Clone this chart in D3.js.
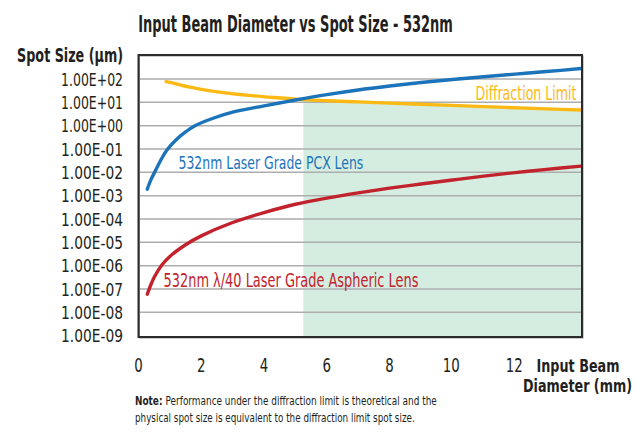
<!DOCTYPE html>
<html>
<head>
<meta charset="utf-8">
<script src="https://cdn.jsdelivr.net/npm/d3@7"></script>
<style>
	body { margin: 0; background: #fff; }
	text { font-family: "Liberation Sans Narrow", "DejaVu Sans Condensed", "Roboto", sans-serif; fill: #231f20; }
</style>
</head>
<body>
<svg id="chart" width="637" height="433"></svg>
<script>
"use strict";

/* global d3 */

// Input beam diameter (mm) and spot size (um)
var pcxX  = [0.28, 0.4, 0.53, 0.7, 0.9, 1.2, 1.5, 1.8, 2.4, 3, 4, 5, 6, 7, 8, 9, 10, 11, 12, 13, 14.1];
var pcxY  = [1.9e-3, 5.0e-3, 1.12e-2, 3.16e-2, 8.9e-2, 0.25, 0.54, 1.0, 2.14, 3.8, 7.1, 12.6,
	21.4, 33.9, 50, 70.8, 95.5, 126, 162, 209, 282];

var asphX = [0.28, 0.4, 0.5, 0.75, 1, 1.5, 2, 3, 4, 5, 6, 7, 8, 9, 10, 11, 12, 13, 14.1];
var asphY = [6e-8, 1.6e-7, 3.2e-7, 1.1e-6, 2.5e-6, 7.9e-6, 1.9e-5, 7.1e-5, 1.9e-4, 4.3e-4,
	7.9e-4, 1.32e-3, 2.1e-3, 3.16e-3, 4.7e-3, 6.9e-3, 9.8e-3, 1.35e-2, 1.86e-2];

var diffX = [0.88, 1.2, 1.6, 2, 2.7, 3.5, 4.3, 5.1, 6, 7, 8, 9, 10, 11, 12, 13, 14.1];
var diffY = [78, 62, 46, 36, 26, 20, 16.2, 13.5, 11.7, 10.5, 9.3, 8.3, 7.4, 6.6, 5.9, 5.25, 4.7];

// Region below the diffraction limit (starts where PCX crosses it)
var shadeStart = 5.25;

var xTicks = [0, 2, 4, 6, 8, 10, 12];
var yTicks = [1e2, 1e1, 1e0, 1e-1, 1e-2, 1e-3, 1e-4, 1e-5, 1e-6, 1e-7, 1e-8, 1e-9];
var yTickLabels = ['1.00E+02', '1.00E+01', '1.00E+00', '1.00E-01', '1.00E-02', '1.00E-03',
	'1.00E-04', '1.00E-05', '1.00E-06', '1.00E-07', '1.00E-08', '1.00E-09'];

var COL_PCX = '#1b73ba', COL_ASPH = '#c1222c', COL_DIFF = '#fdb913';

////////////////////////////////////////////////////////////////////////////////
// Append a text whose width is squeezed to w (condensed look) by scaling it
// horizontally; the font size sets its height.
////////////////////////////////////////////////////////////////////////////////
function fitText(parent, x, y, txt, size, w, anchor, weight, color) {
	var g = parent.append('g').attr('transform', 'translate(' + x + ',' + y + ')');
	var t = g.append('text').attr('x', 0).attr('y', 0).
		style('font-size', size + 'px').style('font-weight', weight || 'normal').
		attr('text-anchor', anchor || 'start').text(txt);
	if (color) t.style('fill', color);
	var len = t.node().getComputedTextLength();
	if (w && len > 0) t.attr('transform', 'scale(' + (w / len) + ',1)');
	return t;
} // end function fitText(...)

var svg = d3.select('#chart');

var box = { l: 138.5, r: 582, t: 55, b: 337 };

var x = d3.scaleLinear().domain([0, 14.13]).range([box.l, box.r]);
var y = d3.scaleLog().domain([1e-9, 1e3]).range([335.7, 55.7]);

var zip = function(xs, ys) { return xs.map(function(v, i) { return { x: v, v: ys[i] }; }); };
var pcx = zip(pcxX, pcxY), asph = zip(asphX, asphY), diff = zip(diffX, diffY);

// Shaded area under the diffraction limit
svg.append('clipPath').attr('id', 'shadeClip').append('rect').
	attr('x', x(shadeStart)).attr('y', box.t).
	attr('width', box.r - x(shadeStart)).attr('height', box.b - box.t);

svg.append('path').datum(diff).attr('clip-path', 'url(#shadeClip)').
	attr('fill', '#d5ede1').
	attr('d', d3.area().curve(d3.curveCatmullRom).
		x(function(d) { return x(d.x); }).y0(box.b).y1(function(d) { return y(d.v); }));

// Horizontal grid lines
svg.append('g').selectAll('line').data(yTicks.slice(0, -1)).join('line').
	attr('x1', box.l).attr('x2', box.r).
	attr('y1', function(d) { return y(d); }).attr('y2', function(d) { return y(d); }).
	attr('stroke', '#adadad').attr('stroke-width', 1.5);

// Curves
var line = d3.line().curve(d3.curveCatmullRom).
	x(function(d) { return x(d.x); }).y(function(d) { return y(d.v); });

[[diff, COL_DIFF], [pcx, COL_PCX], [asph, COL_ASPH]].forEach(function(s) {
	svg.append('path').datum(s[0]).attr('d', line).attr('fill', 'none').
		attr('stroke', s[1]).attr('stroke-width', 3.4).attr('stroke-linecap', 'round');
});

// Frame
svg.append('rect').attr('x', box.l + 1).attr('y', box.t + 1).
	attr('width', box.r - box.l).attr('height', box.b - box.t).
	attr('fill', 'none').attr('stroke', '#999').attr('stroke-width', 1);
svg.append('rect').attr('x', box.l).attr('y', box.t).
	attr('width', box.r - box.l).attr('height', box.b - box.t).
	attr('fill', 'none').attr('stroke', '#2b2b2b').attr('stroke-width', 2);

// Y tick labels
yTicks.forEach(function(d, i) {
	fitText(svg, 123, y(d) + 6.5, yTickLabels[i], 18, 62, 'end');
});

// X tick labels
xTicks.forEach(function(d) {
	fitText(svg, x(d) - (d >= 10 ? 1 : 0), 371.5, String(d), 20, d >= 10 ? 17 : 8.5, 'middle');
});

// Titles
fitText(svg, 295.5, 32, 'Input Beam Diameter vs Spot Size - 532nm', 23, 315, 'middle', 'bold');
fitText(svg, 123, 61.5, 'Spot Size (\u03bcm)', 19, 106, 'end', 'bold');
fitText(svg, 578, 371.5, 'Input Beam', 17, 83, 'middle', 'bold');
fitText(svg, 577.5, 391.5, 'Diameter (mm)', 17, 109, 'middle', 'bold');

// Series labels
fitText(svg, 576.5, 100, 'Diffraction Limit', 20, 101, 'end', 'normal', COL_DIFF);
fitText(svg, 178.5, 168.5, '532nm Laser Grade PCX Lens', 18, 185, 'start', 'normal', COL_PCX);
fitText(svg, 163.5, 286.5, '532nm \u03bb/40 Laser Grade Aspheric Lens', 19, 255, 'start', 'normal', COL_ASPH);

// Note
var ng = svg.append('g').attr('transform', 'translate(135,405)');
var note = ng.append('text').style('font-size', '12px');
note.append('tspan').style('font-weight', 'bold').text('Note: ');
note.append('tspan').text('Performance under the diffraction limit is theoretical and the');
note.attr('transform', 'scale(' + (302 / note.node().getComputedTextLength()) + ',1)');
fitText(svg, 135, 421.5, 'physical spot size is equivalent to the diffraction limit spot size.', 12, 280);
</script>
</body>
</html>
